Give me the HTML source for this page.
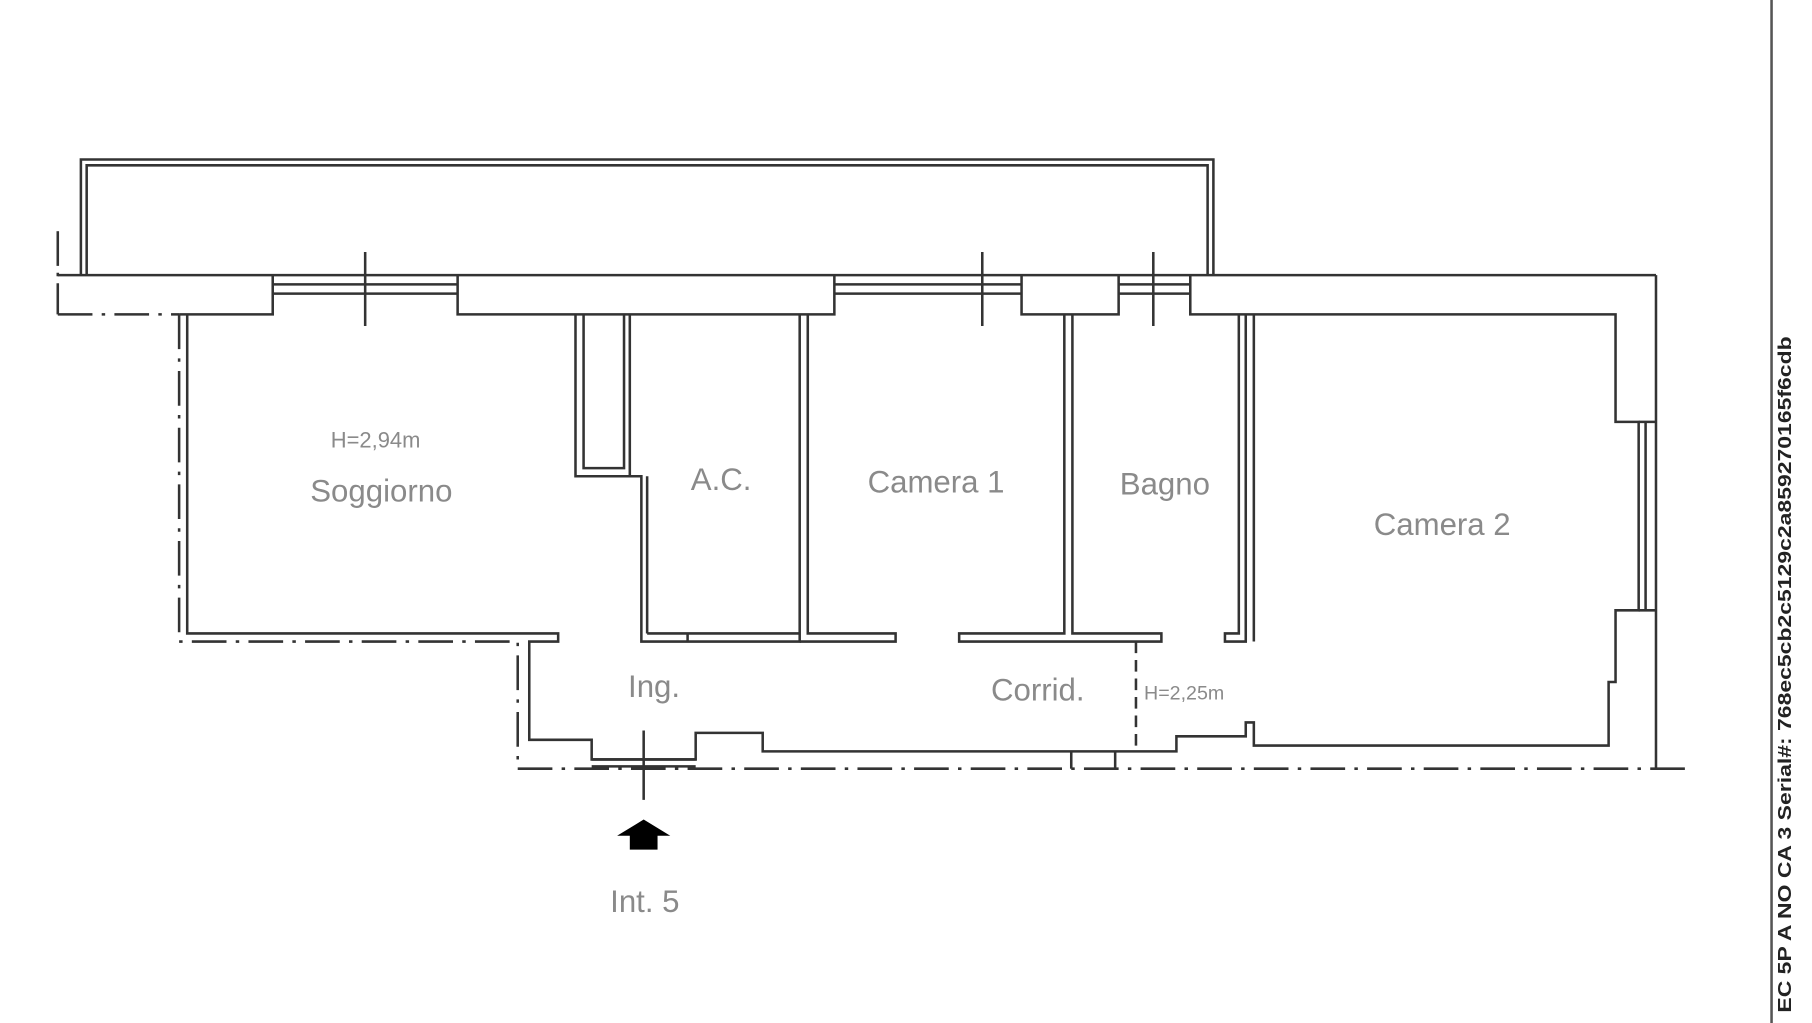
<!DOCTYPE html>
<html><head><meta charset="utf-8"><style>
html,body{margin:0;padding:0;background:#fff;width:1812px;height:1023px;overflow:hidden}
svg{display:block}
text{font-family:"Liberation Sans",sans-serif;fill:#8a8a8a}
</style></head><body>
<svg width="1812" height="1023" viewBox="0 0 1568 885" preserveAspectRatio="none">
<g fill="none" stroke="#333" stroke-width="2.2">
<polyline points="70,238 70,138 1050,138 1050,238"/>
<polyline points="75,238 75,143 1045,143 1045,238"/>
<line x1="50" y1="200" x2="50" y2="272" stroke-dasharray="30,6,3,6"/>
<line x1="50" y1="238" x2="1433" y2="238"/>
<polyline points="236,238 236,272 155,272"/>
<line x1="50" y1="272" x2="155" y2="272" stroke-dasharray="30,8,3,8"/>
<line x1="236" y1="246" x2="396" y2="246"/><line x1="236" y1="254" x2="396" y2="254"/>
<line x1="316" y1="218" x2="316" y2="282"/>
<polyline points="396,238 396,272 722,272 722,238"/>
<line x1="722" y1="246" x2="884" y2="246"/><line x1="722" y1="254" x2="884" y2="254"/>
<line x1="850" y1="218" x2="850" y2="282"/>
<polyline points="884,238 884,272 968,272 968,238"/>
<line x1="968" y1="246" x2="1030" y2="246"/><line x1="968" y1="254" x2="1030" y2="254"/>
<line x1="998" y1="218" x2="998" y2="282"/>
<polyline points="1030,238 1030,272 1398,272 1398,365 1418,365 1418,528 1398,528 1398,590 1392,590 1392,645 1085,645 1085,625 1078,625 1078,637 1018,637 1018,650 660,650 660,634 602,634 602,657 512,657 512,640 458,640 458,555 483,555 483,548 162,548 162,272"/>
<line x1="1433" y1="238" x2="1433" y2="665"/>
<line x1="1424" y1="365" x2="1424" y2="528"/>
<line x1="1418" y1="365" x2="1433" y2="365"/><line x1="1418" y1="528" x2="1433" y2="528"/>
<polyline points="155,272 155,555 448,555 448,665" stroke-dasharray="30,8,3,8"/>
<line x1="448" y1="665" x2="1460" y2="665" stroke-dasharray="30,8,3,8"/>
<line x1="512" y1="657" x2="602" y2="657"/><line x1="512" y1="663" x2="602" y2="663"/>
<line x1="557" y1="632" x2="557" y2="692"/>
<polyline points="498,272 498,412 545,412 555,412 555,555 692,555 692,272"/>
<polyline points="505,272 505,405 540,405 540,272"/>
<line x1="545" y1="272" x2="545" y2="412"/>
<line x1="560" y1="412" x2="560" y2="548"/>
<polyline points="560,548 692,548"/>
<line x1="595" y1="548" x2="595" y2="555"/>
<polyline points="699,272 699,548 775,548 775,555 692,555"/>
<polyline points="921,272 921,548 830,548 830,555 1005,555 1005,548 928,548 928,272"/>
<polyline points="1072,272 1072,548 1060,548 1060,555 1078,555 1078,272"/>
<line x1="1085" y1="272" x2="1085" y2="555"/>
<line x1="983" y1="555" x2="983" y2="650" stroke-dasharray="10,6"/>
<line x1="927" y1="650" x2="927" y2="665"/><line x1="965" y1="650" x2="965" y2="665"/>
<line x1="1533" y1="0" x2="1533" y2="885" stroke="#555"/>
</g>
<polygon points="557,709 580,723 569,723 569,735 545,735 545,723 534,723" fill="#000"/>
<text x="325" y="387" font-size="19" text-anchor="middle">H=2,94m</text>
<text x="330" y="434" font-size="27" text-anchor="middle">Soggiorno</text>
<text x="624" y="424" font-size="27" text-anchor="middle">A.C.</text>
<text x="810" y="426" font-size="27" text-anchor="middle">Camera 1</text>
<text x="1008" y="428" font-size="27" text-anchor="middle">Bagno</text>
<text x="1248" y="463" font-size="27" text-anchor="middle">Camera 2</text>
<text x="566" y="603" font-size="27" text-anchor="middle">Ing.</text>
<text x="898" y="606" font-size="27" text-anchor="middle">Corrid.</text>
<text x="990" y="605" font-size="17">H=2,25m</text>
<text x="558" y="789" font-size="27" text-anchor="middle">Int. 5</text>
<text transform="translate(1550,876) rotate(-90)" font-size="16" font-weight="bold" textLength="585" lengthAdjust="spacingAndGlyphs" style="fill:#222">EC 5P A NO CA 3 Serial#: 768ec5cb2c5129c2a859270165f6cdb</text>
</svg>
</body></html>
